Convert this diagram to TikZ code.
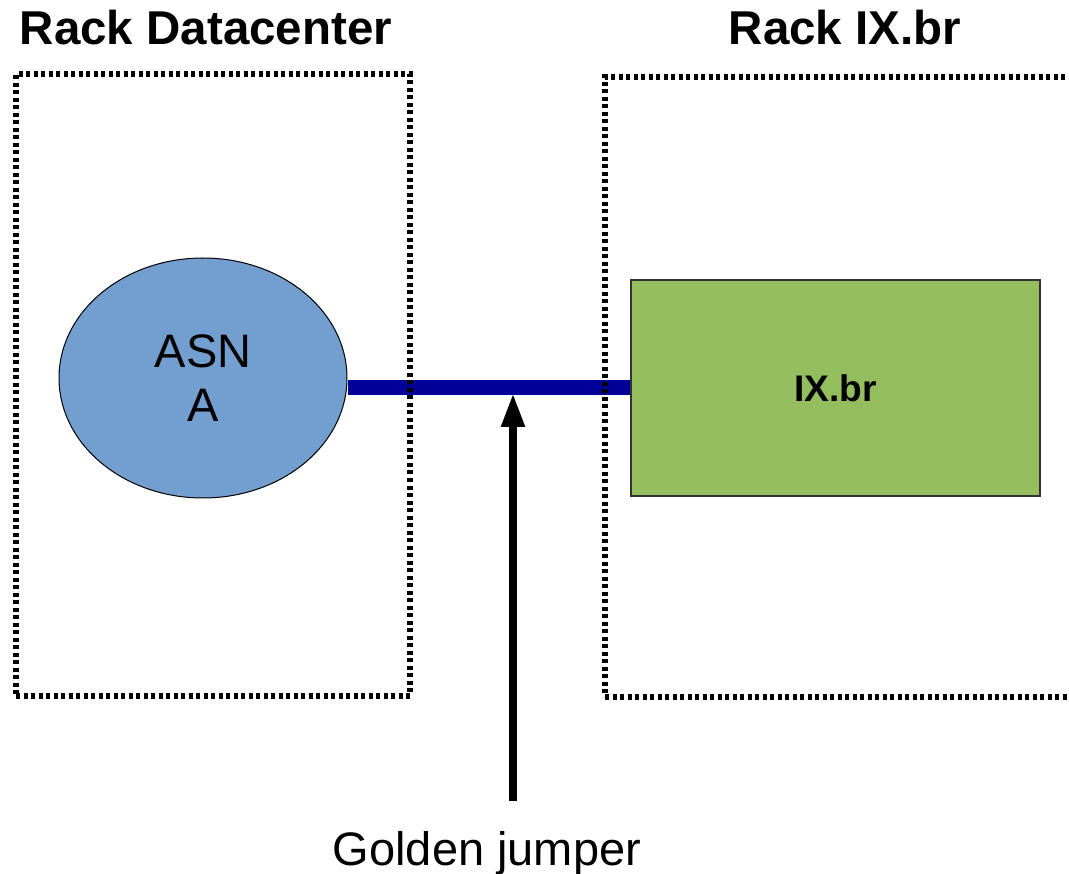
\documentclass[tikz,border=0pt]{standalone}
\usepackage{fontspec}
\setmainfont{Liberation Sans}
\usetikzlibrary{positioning,shapes.geometric,arrows.meta}

\definecolor{asnblue}{HTML}{729FCF}
\definecolor{ixgreen}{HTML}{94BD5E}
\definecolor{jumperblue}{HTML}{000099}

\begin{document}
\begin{tikzpicture}[x=1pt,y=-1pt,
    rack/.style={draw,line width=6pt,dash pattern=on 4pt off 3.5pt,inner sep=0pt},
    title/.style={anchor=base,font=\bfseries\fontsize{47.5}{54}\selectfont},
    big/.style={font=\fontsize{47}{54}\selectfont}]
    \useasboundingbox (0,0) rectangle (1069,874);
    \clip (0,0) rectangle (1069,874);

    % naslova
    \node [title] (t1) at (206,45) {Rack Datacenter};
    \node [title] (t2) at (845,45) {Rack IX.br};

    % ASN in IX.br
    \node [ellipse,draw,line width=1pt,fill=asnblue,minimum width=288pt,minimum height=240pt,
           big,align=center] (asn) at (203,378) {ASN\\A};
    \node [rectangle,draw=black!80,line width=1.5pt,fill=ixgreen,minimum width=409pt,minimum height=216pt,
           font=\bfseries\fontsize{37}{44}\selectfont] (ix) at (835.5,388) {IX.br};

    % povezava
    \draw [jumperblue,line width=15pt] (ix.west -| asn.east) -- (ix.west);

    % regala
    \node [rack,minimum width=394pt,minimum height=621pt] (r1) at (213,385) {};
    \node [rack,minimum width=520pt,minimum height=620pt] (r2) at (865,387) {};

    % labela in puscica
    \node [big,anchor=base] (gj) at (487,865) {Golden jumper};
    \coordinate (s) at (513,801);
    \coordinate (j) at (513,393);
    \draw [line width=8pt,-{Triangle[length=34pt,width=22pt]}] (s) -- (j);
\end{tikzpicture}
\end{document}
